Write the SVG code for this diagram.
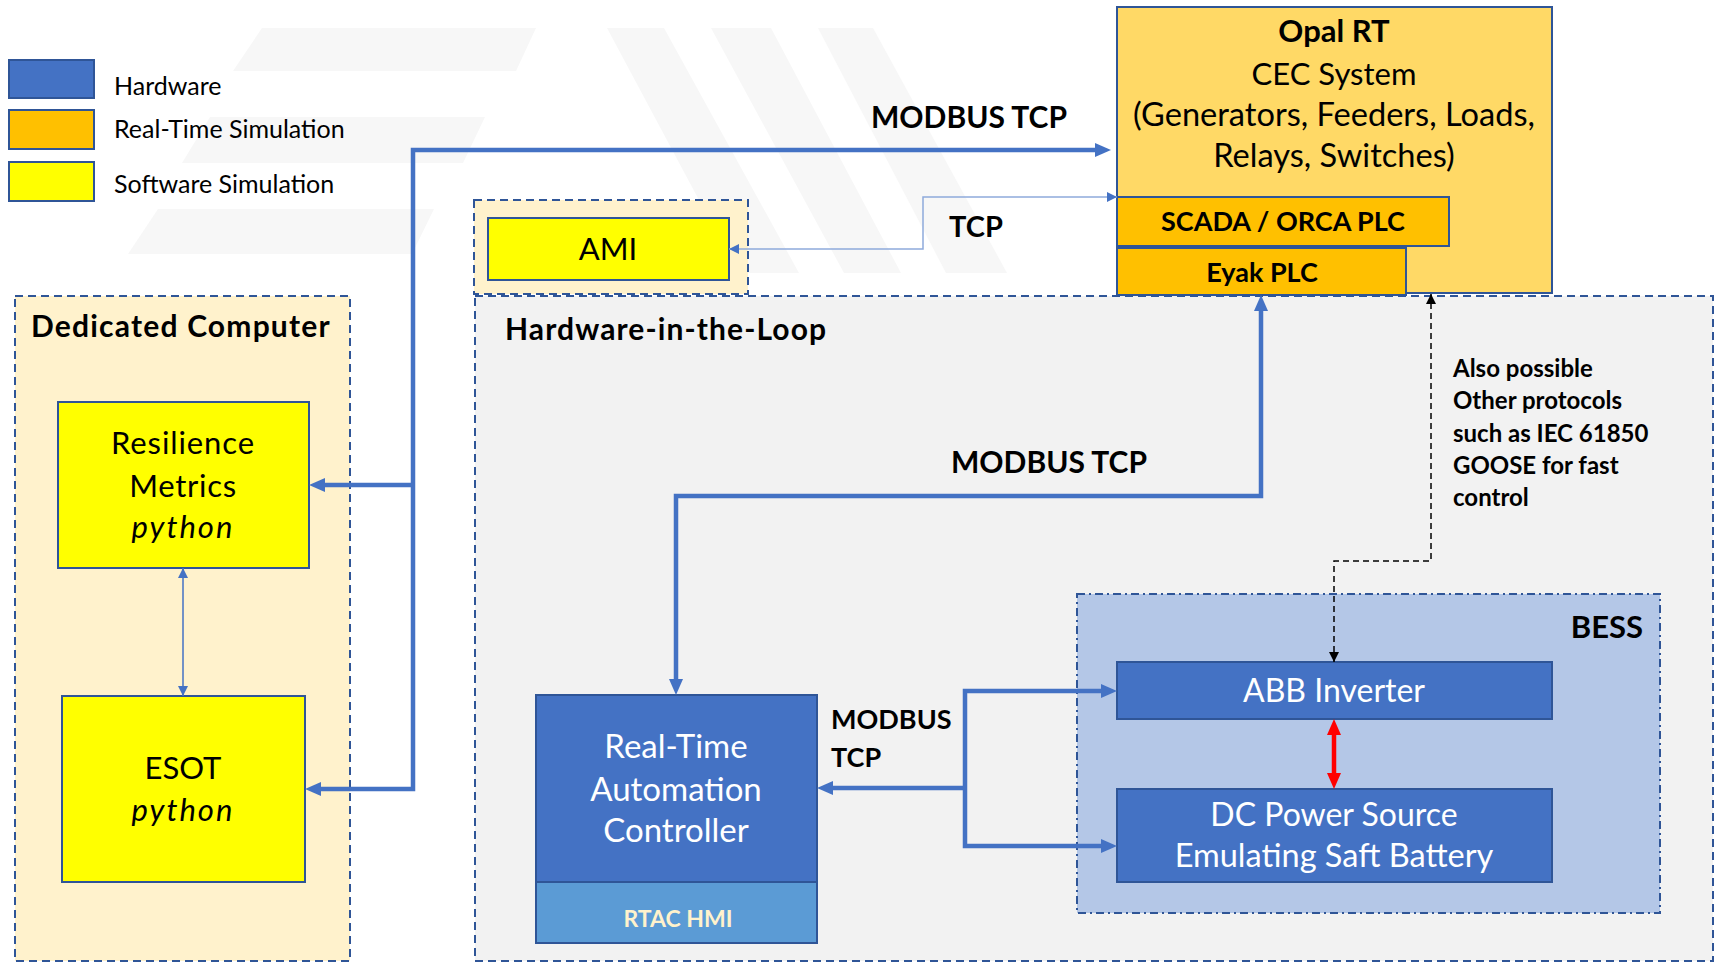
<svg xmlns="http://www.w3.org/2000/svg" width="1715" height="963" viewBox="0 0 1715 963">
<style>
text{font-family:Lato,"Open Sans","Liberation Sans",sans-serif;fill:#000}
.b{font-weight:bold}
.i{font-style:italic}
.m{text-anchor:middle}
.w{fill:#fff}
.box{stroke:#2F5597;stroke-width:2}
.grp{stroke:#2F5597;stroke-width:2;stroke-dasharray:8,5}
.thick{fill:none;stroke:#4472C4;stroke-width:4.5}
.thin{fill:none;stroke:#4472C4;stroke-width:1.5}
.wm{fill:#F7F7F7}
</style>
<defs>
<marker id="ah" viewBox="0 0 16 14" markerWidth="16" markerHeight="14" markerUnits="userSpaceOnUse" refX="4" refY="7" orient="auto-start-reverse"><path d="M0,0 L16,7 L0,14 z" fill="#4472C4"/></marker>
<marker id="ahr" viewBox="0 0 16 14" markerWidth="16" markerHeight="14" markerUnits="userSpaceOnUse" refX="4" refY="7" orient="auto-start-reverse"><path d="M0,0 L16,7 L0,14 z" fill="#FF0000"/></marker>
<marker id="ahs" viewBox="0 0 10 10" markerWidth="10" markerHeight="10" markerUnits="userSpaceOnUse" refX="10" refY="5" orient="auto-start-reverse"><path d="M0,0 L10,5 L0,10 z" fill="#4472C4"/></marker>
<marker id="ahk" viewBox="0 0 10 10" markerWidth="10" markerHeight="10" markerUnits="userSpaceOnUse" refX="10" refY="5" orient="auto-start-reverse"><path d="M0,0 L10,5 L0,10 z" fill="#000"/></marker>
</defs>
<rect width="1715" height="963" fill="#fff"/>

<g id="watermark">
<path class="wm" d="M262,28 H536 L516,71 H233 Z"/>
<path class="wm" d="M210,117 H485 L463,163 H182 Z"/>
<path class="wm" d="M158,209 H434 L412,254 H128 Z"/>
<path class="wm" d="M607,28 H664 L799,273 H738 Z"/>
<path class="wm" d="M711,28 H771 L901,273 H844 Z"/>
<path class="wm" d="M818,28 H873 L1007,273 H946 Z"/>
</g>

<g id="legend">
<rect x="9" y="60" width="85" height="38" fill="#4472C4" class="box"/>
<rect x="9" y="110" width="85" height="39" fill="#FFC000" class="box"/>
<rect x="9" y="162" width="85" height="39" fill="#FFFF00" class="box"/>
<text x="114" y="95" font-size="25">Hardware</text>
<text x="114" y="138" font-size="25">Real-Time Simulation</text>
<text x="114" y="193" font-size="25">Software Simulation</text>
</g>

<g id="dedicated-computer">
<rect x="15" y="296" width="335" height="665" fill="#FFF2CC" class="grp"/>
<text x="31" y="337" font-size="30" class="b" letter-spacing="1.2">Dedicated Computer</text>
</g>

<g id="hil">
<rect x="475" y="296" width="1238" height="665" fill="#F2F2F2" class="grp"/>
<text x="505" y="340" font-size="30" class="b" letter-spacing="1.1">Hardware-in-the-Loop</text>
</g>

<g id="ami-group">
<rect x="474" y="200" width="274" height="94" fill="#FFF2CC" class="grp"/>
</g>

<g id="ami">
<rect x="488" y="218" width="241" height="62" fill="#FFFF00" class="box"/>
<text x="608" y="260" font-size="31" class="m">AMI</text>
</g>

<g id="opal-rt">
<rect x="1117" y="7" width="435" height="286" fill="#FFD966" class="box"/>
<text x="1334" y="42" font-size="31" class="m b">Opal RT</text>
<text x="1334" y="85" font-size="31" class="m">CEC System</text>
<text x="1334" y="126" font-size="32.6" class="m">(Generators, Feeders, Loads,</text>
<text x="1334" y="167" font-size="32.6" class="m">Relays, Switches)</text>
</g>

<g id="scada">
<rect x="1117" y="197" width="332" height="49" fill="#FFC000" class="box"/>
<text x="1283" y="231" font-size="27" class="m b">SCADA / ORCA PLC</text>
</g>

<g id="eyak">
<rect x="1117" y="248" width="289" height="47" fill="#FFC000" class="box"/>
<text x="1262" y="282" font-size="27" class="m b">Eyak PLC</text>
</g>

<g id="resilience">
<rect x="58" y="402" width="251" height="166" fill="#FFFF00" class="box"/>
<text x="183" y="454" font-size="31" class="m" letter-spacing="0.9">Resilience</text>
<text x="183" y="497" font-size="31" class="m" letter-spacing="0.7">Metrics</text>
<text x="183" y="538" font-size="31" class="m i" letter-spacing="2">python</text>
</g>

<g id="esot">
<rect x="62" y="696" width="243" height="186" fill="#FFFF00" class="box"/>
<text x="183" y="779" font-size="31" class="m">ESOT</text>
<text x="183" y="821" font-size="31" class="m i" letter-spacing="2">python</text>
</g>

<g id="bess">
<rect x="1077" y="594" width="583" height="319" fill="#B4C7E7" stroke="#2F5597" stroke-width="2" stroke-dasharray="8,4,2,4"/>
<text x="1643" y="638" font-size="31" class="b" text-anchor="end">BESS</text>
</g>

<g id="abb">
<rect x="1117" y="662" width="435" height="57" fill="#4472C4" class="box"/>
<text x="1334" y="702" font-size="32" class="m w">ABB Inverter</text>
</g>

<g id="dc-source">
<rect x="1117" y="789" width="435" height="93" fill="#4472C4" class="box"/>
<text x="1334" y="826" font-size="32" class="m w">DC Power Source</text>
<text x="1334" y="867" font-size="32.5" class="m w">Emulating Saft Battery</text>
</g>

<g id="rtac">
<rect x="536" y="695" width="281" height="187" fill="#4472C4" class="box"/>
<rect x="536" y="882" width="281" height="61" fill="#5B9BD5" class="box"/>
<text x="676" y="758" font-size="33" class="m w">Real-Time</text>
<text x="676" y="801" font-size="33" class="m w">Automation</text>
<text x="676" y="842" font-size="33" class="m w">Controller</text>
<text x="678" y="927" font-size="23" class="m b" style="fill:#FFF2CC">RTAC HMI</text>
</g>

<g id="connectors">
<path class="thick" d="M1099,150 H413 V789 H317" marker-start="url(#ah)" marker-end="url(#ah)"/>
<path class="thick" d="M413,485 H321" marker-end="url(#ah)"/>
<path class="thick" d="M676,683 V496 H1261 V307" marker-start="url(#ah)" marker-end="url(#ah)"/>
<path class="thick" d="M1105,691 H965 V846 H1105" marker-start="url(#ah)" marker-end="url(#ah)"/>
<path class="thick" d="M965,788 H829" marker-end="url(#ah)"/>
<path fill="none" stroke="#8FAADC" stroke-width="1.5" d="M1117,197 H923 V249 H729" marker-start="url(#ahs)" marker-end="url(#ahs)"/>
<path class="thin" d="M183,568 V696" marker-start="url(#ahs)" marker-end="url(#ahs)"/>
<path fill="none" stroke="#FF0000" stroke-width="4.5" d="M1334,731 V777" marker-start="url(#ahr)" marker-end="url(#ahr)"/>
<path fill="none" stroke="#000" stroke-width="1.5" stroke-dasharray="6,4" d="M1334,662 V561 H1431 V294" marker-start="url(#ahk)" marker-end="url(#ahk)"/>
<text x="871" y="128" font-size="30" class="b">MODBUS TCP</text>
<text x="949" y="237" font-size="29" class="b">TCP</text>
<text x="951" y="473" font-size="30" class="b">MODBUS TCP</text>
<text x="831" y="729" font-size="27" class="b">MODBUS</text>
<text x="831" y="767" font-size="27" class="b">TCP</text>
<text x="1453" y="377" font-size="24" class="b">Also possible</text>
<text x="1453" y="409" font-size="24" class="b">Other protocols</text>
<text x="1453" y="442" font-size="24" class="b">such as IEC 61850</text>
<text x="1453" y="474" font-size="24" class="b">GOOSE for fast</text>
<text x="1453" y="506" font-size="24" class="b">control</text>
</g>
</svg>
